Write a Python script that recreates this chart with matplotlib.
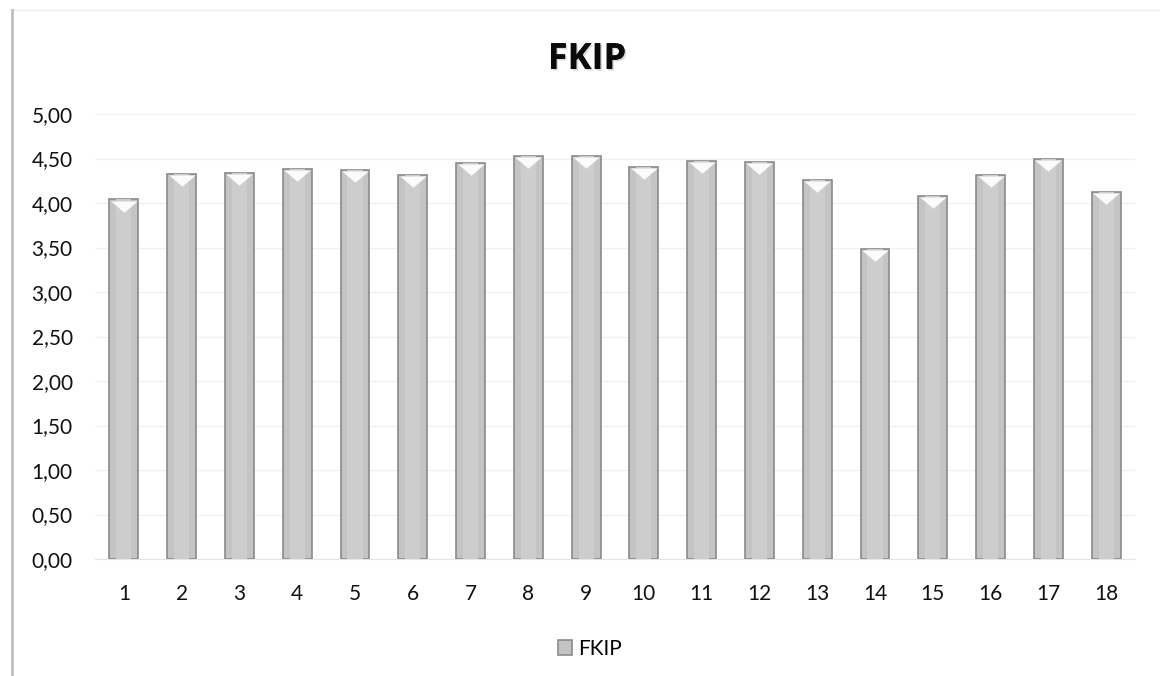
import matplotlib
matplotlib.use("Agg")
import matplotlib.pyplot as plt
from matplotlib.patches import Rectangle
from matplotlib.ticker import FuncFormatter
from matplotlib.path import Path
import matplotlib.patheffects as pe

categories = [str(i) for i in range(1, 19)]
values = [4.04, 4.33, 4.34, 4.38, 4.37, 4.31, 4.45, 4.53, 4.53, 4.41,
          4.47, 4.46, 4.26, 3.48, 4.08, 4.31, 4.49, 4.12]
series_name = "FKIP"
title = "FKIP"

plt.rcParams['font.family'] = ['Lato', 'DejaVu Sans']

fig = plt.figure(figsize=(11.6, 6.76), dpi=100)
ax = fig.add_axes([95/1160, (676-559)/676, (1135-95)/1160, (559-114)/676])

x = list(range(len(categories)))
bars = ax.bar(x, values, width=0.5, color='#c4c4c4', edgecolor='#8a8a8a',
              linewidth=1.2, label=series_name, zorder=3)
# inner lighter stripe for a shaded look
ax.bar(x, values, width=0.26, color='#cdcdcd', linewidth=0, zorder=3.5)
# bevel top marks
bevel = Path([(-1, 0), (1, 0), (0, -0.85), (-1, 0)],
             [Path.MOVETO, Path.LINETO, Path.LINETO, Path.CLOSEPOLY])
for xi, v in zip(x, values):
    ax.plot([xi], [v - 0.012], marker=bevel, markersize=19, color='#fbfbfb',
            markeredgewidth=0, zorder=4)

ax.set_xlim(-0.5, len(categories) - 0.5)
ax.set_ylim(0, 5)
ax.set_yticks([i * 0.5 for i in range(11)])
ax.yaxis.set_major_formatter(FuncFormatter(lambda v, p: f"{v:.2f}".replace('.', ',')))
ax.set_xticks(x)
ax.set_xticklabels(categories)
ax.grid(axis='y', color='#f0f0f0', linewidth=1, zorder=0)
for s in ['top', 'right', 'left']:
    ax.spines[s].set_visible(False)
ax.spines['bottom'].set_color('#e6e6e6')
ax.tick_params(axis='both', length=0, labelsize=15, colors='#111111')
ax.tick_params(axis='x', pad=18)
ax.tick_params(axis='y', pad=16)

fig.text(587/1160, (676-60)/676, title, ha='center', va='center', fontsize=26,
         fontweight='bold', family=['Open Sans', 'DejaVu Sans'], color='#0a0a0a',
         path_effects=[pe.withSimplePatchShadow(offset=(1.2, -1.2), shadow_rgbFace='#999999', alpha=0.35), pe.Normal()])

leg = fig.legend(handles=[bars], labels=[series_name], loc='center',
                 bbox_to_anchor=(590/1160, (676-649)/676), frameon=False,
                 fontsize=15, handlelength=0.7, handleheight=0.7, handletextpad=0.3)

# chart frame
fig.add_artist(Rectangle((12/1160, -0.01), 1.2, (676-10)/676 + 0.01,
                         transform=fig.transFigure, fill=False,
                         edgecolor='#ededed', linewidth=1))
fig.add_artist(plt.Line2D([12/1160, 12/1160], [0, (676-10)/676],
                          transform=fig.transFigure, color='#bfbfbf', linewidth=2))

fig.savefig("out.png", dpi=100)
